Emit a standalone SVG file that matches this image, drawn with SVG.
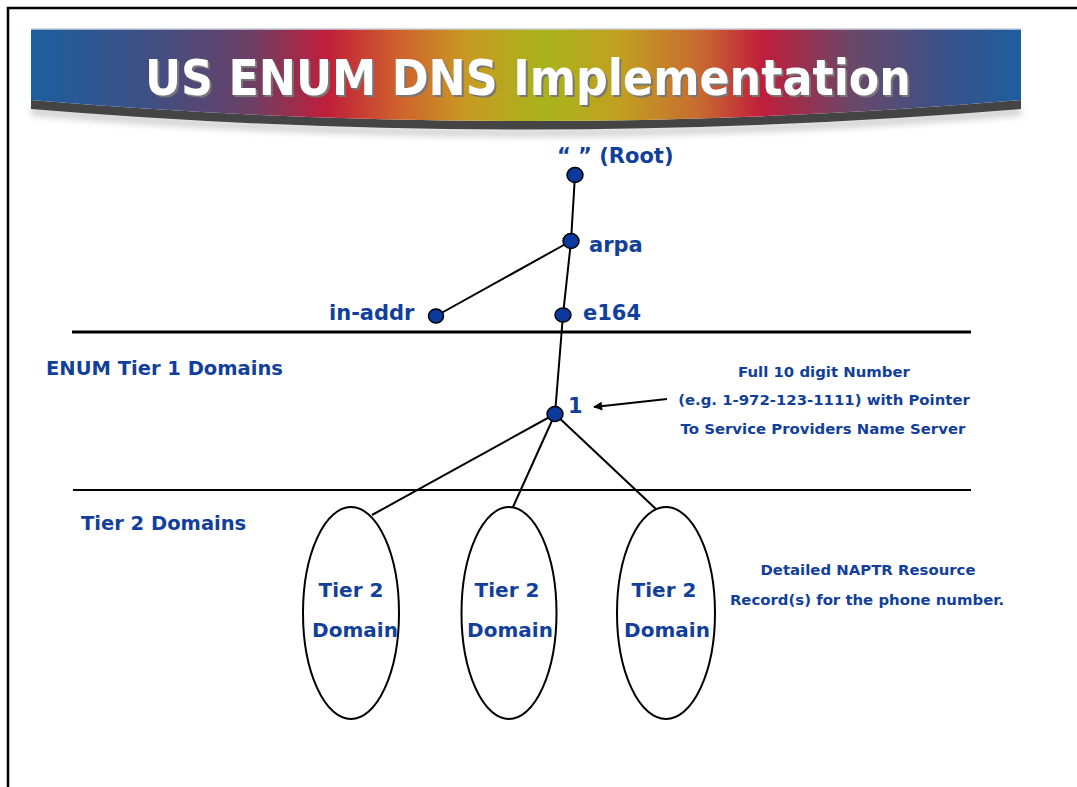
<svg xmlns="http://www.w3.org/2000/svg" width="1077" height="787" viewBox="0 0 1077 787">
<defs>
<linearGradient id="spec" x1="31" y1="0" x2="1021" y2="0" gradientUnits="userSpaceOnUse">
<stop offset="0" stop-color="#1c5e9e"/>
<stop offset="0.12" stop-color="#3f4f84"/>
<stop offset="0.22" stop-color="#6a4066"/>
<stop offset="0.30" stop-color="#c01e3a"/>
<stop offset="0.37" stop-color="#d0602e"/>
<stop offset="0.44" stop-color="#c89a22"/>
<stop offset="0.52" stop-color="#a8b31a"/>
<stop offset="0.595" stop-color="#c2a020"/>
<stop offset="0.676" stop-color="#c86a30"/>
<stop offset="0.738" stop-color="#c01e3a"/>
<stop offset="0.83" stop-color="#6a4868"/>
<stop offset="0.92" stop-color="#3c5088"/>
<stop offset="1" stop-color="#1c5e9e"/>
</linearGradient>
<filter id="blur" x="-5%" y="-50%" width="110%" height="200%"><feGaussianBlur stdDeviation="3"/></filter>
<marker id="arr" viewBox="0 0 10 10" refX="9" refY="5" markerWidth="10" markerHeight="9" markerUnits="userSpaceOnUse" orient="auto">
<path d="M0,0 L10,5 L0,10 Z" fill="#000"/>
</marker>
<style>
.lbl{font-family:"DejaVu Sans","Liberation Sans",sans-serif;font-weight:bold;fill:#123f9c}
.node{font-size:21px}
.dot{fill:#0b3a9c;stroke:#000;stroke-width:1.5}
.edge{stroke:#000;stroke-width:2;fill:none}
.oval{fill:#fff;stroke:#000;stroke-width:2}
.note{font-size:14.9px;text-anchor:middle}
.in{font-size:20px;text-anchor:middle}
</style>
</defs>
<rect width="1077" height="787" fill="#fff"/>
<path d="M8,787 V8 H1077" fill="none" stroke="#000" stroke-width="2.5"/>

<g id="banner">
<path d="M31,106 Q526,152 1021,106 L1021,116 Q526,158 31,116 Z" fill="#d4d4d4" filter="url(#blur)"/>
<path d="M31,100 Q526,142 1021,100 L1021,109 Q526,150 31,109 Z" fill="#444"/>
<path d="M31,29 H1021 V100 Q526,142 31,100 Z" fill="url(#spec)"/>
<line x1="31" y1="29" x2="1021" y2="29" stroke="#c8d0dc" stroke-width="1.5"/>
<text x="147" y="97" font-family="'DejaVu Sans Condensed','DejaVu Sans',sans-serif" font-weight="bold" font-size="50" fill="#777" textLength="766" lengthAdjust="spacingAndGlyphs">US ENUM DNS Implementation</text>
<text x="145" y="95" font-family="'DejaVu Sans Condensed','DejaVu Sans',sans-serif" font-weight="bold" font-size="50" fill="#fff" textLength="766" lengthAdjust="spacingAndGlyphs">US ENUM DNS Implementation</text>
</g>

<g id="dividers">
<line x1="72" y1="332" x2="971" y2="332" stroke="#000" stroke-width="3"/>
<line x1="73" y1="490" x2="971" y2="490" stroke="#000" stroke-width="2"/>
</g>

<g id="connectors">
<line class="edge" x1="575" y1="175" x2="571" y2="241"/>
<line class="edge" x1="571" y1="241" x2="563" y2="315"/>
<line class="edge" x1="571" y1="241" x2="436" y2="316"/>
<line class="edge" x1="563" y1="315" x2="555" y2="414"/>
<line class="edge" x1="555" y1="414" x2="372" y2="515"/>
<line class="edge" x1="555" y1="414" x2="513" y2="507"/>
<line class="edge" x1="555" y1="414" x2="657" y2="510"/>
<line class="edge" x1="667" y1="399" x2="594" y2="407" marker-end="url(#arr)"/>
</g>

<g id="root"><ellipse class="dot" cx="575" cy="175" rx="8" ry="7.5"/><text class="lbl node" x="557" y="163" font-size="20">“ ” (Root)</text></g>
<g id="arpa"><ellipse class="dot" cx="571" cy="241" rx="8" ry="7.5"/><text class="lbl node" x="589" y="252">arpa</text></g>
<g id="in-addr"><ellipse class="dot" cx="436" cy="316" rx="7.5" ry="7"/><text class="lbl node" x="329" y="320">in-addr</text></g>
<g id="e164"><ellipse class="dot" cx="563" cy="315" rx="8" ry="7"/><text class="lbl node" x="583" y="320">e164</text></g>
<g id="one"><ellipse class="dot" cx="555" cy="414" rx="8" ry="7.5"/><text class="lbl node" x="568" y="413">1</text></g>

<g id="tier1-label"><text class="lbl" x="46" y="375" font-size="19.5">ENUM Tier 1 Domains</text></g>
<g id="tier2-label"><text class="lbl" x="81" y="530" font-size="19.5">Tier 2 Domains</text></g>

<g id="tier1-note">
<text class="lbl note" x="824" y="377">Full 10 digit Number</text>
<text class="lbl note" x="824" y="405">(e.g. 1-972-123-1111) with Pointer</text>
<text class="lbl note" x="823" y="434">To Service Providers Name Server</text>
</g>

<g id="tier2-a"><ellipse class="oval" cx="351" cy="613" rx="48" ry="106"/><text class="lbl in" x="351" y="597">Tier 2</text><text class="lbl in" x="355" y="637">Domain</text></g>
<g id="tier2-b"><ellipse class="oval" cx="509" cy="613" rx="47.5" ry="106"/><text class="lbl in" x="507" y="597">Tier 2</text><text class="lbl in" x="510" y="637">Domain</text></g>
<g id="tier2-c"><ellipse class="oval" cx="666" cy="613" rx="49" ry="106"/><text class="lbl in" x="664" y="597">Tier 2</text><text class="lbl in" x="667" y="637">Domain</text></g>

<g id="tier2-note">
<text class="lbl note" x="868" y="575">Detailed NAPTR Resource</text>
<text class="lbl note" x="867" y="605">Record(s) for the phone number.</text>
</g>
</svg>
